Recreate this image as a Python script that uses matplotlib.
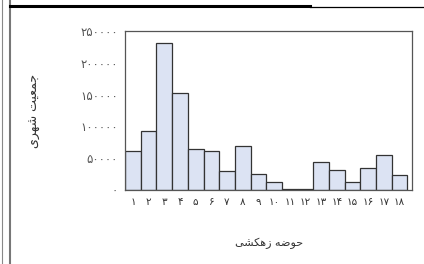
import matplotlib
matplotlib.use("Agg")
import matplotlib.pyplot as plt
from matplotlib.lines import Line2D

# data (urban population per drainage basin)
basins = list(range(1, 19))
population = [61400, 92200, 231700, 152000, 64000, 61000, 30200, 68700, 24500,
              13000, 1000, 1000, 43700, 31800, 13000, 35400, 54700, 23000]
yticks = [0, 50000, 100000, 150000, 200000, 250000]
ylabel = "جمعیت شهری"
xlabel = "حوضه زهکشی"

# presentation forms: iso, fin, ini, med (None -> letter does not join forward)
FORMS = {
    "ج": ("\uFE9D", "\uFE9E", "\uFE9F", "\uFEA0"),
    "م": ("\uFEE1", "\uFEE2", "\uFEE3", "\uFEE4"),
    "ع": ("\uFEC9", "\uFECA", "\uFECB", "\uFECC"),
    "ی": ("\uFBFC", "\uFBFD", "\uFBFE", "\uFBFF"),
    "ت": ("\uFE95", "\uFE96", "\uFE97", "\uFE98"),
    "ش": ("\uFEB5", "\uFEB6", "\uFEB7", "\uFEB8"),
    "ه": ("\uFEE9", "\uFEEA", "\uFEEB", "\uFEEC"),
    "ر": ("\uFEAD", "\uFEAE", None, None),
    "ح": ("\uFEA1", "\uFEA2", "\uFEA3", "\uFEA4"),
    "و": ("\uFEED", "\uFEEE", None, None),
    "ض": ("\uFEBD", "\uFEBE", "\uFEBF", "\uFEC0"),
    "ز": ("\uFEAF", "\uFEB0", None, None),
    "ک": ("\uFB8E", "\uFB8F", "\uFB90", "\uFB91"),
}


def shape(text):
    # crude arabic shaping + reversal so it reads right-to-left
    out = []
    for i, ch in enumerate(text):
        if ch not in FORMS:
            out.append(ch)
            continue
        prev = text[i - 1] if i > 0 else ""
        nxt = text[i + 1] if i + 1 < len(text) else ""
        join_prev = prev in FORMS and FORMS[prev][2] is not None
        join_next = nxt in FORMS and FORMS[ch][2] is not None
        iso, fin, ini, med = FORMS[ch]
        if join_prev and join_next:
            out.append(med)
        elif join_prev:
            out.append(fin)
        elif join_next:
            out.append(ini)
        else:
            out.append(iso)
    return "".join(reversed(out))


def fa_digits(n):
    return str(n).translate(str.maketrans("0123456789", "۰۱۲۳۴۵۶۷۸۹"))


fig = plt.figure(figsize=(4.24, 2.64), dpi=100)
ax = fig.add_axes([0.295, 0.28, 0.677, 0.603])

ax.bar(range(len(basins)), population, width=1.0, color="#dce3f3",
       edgecolor="#333333", linewidth=0.9)
ax.set_xlim(-0.5, 17.8)
ax.set_ylim(0, 250000)

ax.set_xticks(range(len(basins)))
ax.set_xticklabels([fa_digits(b) for b in basins], fontsize=7.5, color="#333333")
ax.set_yticks(yticks)
ax.set_yticklabels([fa_digits(v) for v in yticks], fontsize=8.5, color="#555555")
ax.tick_params(length=0, pad=5)
for s in ax.spines.values():
    s.set_color("#555555")
    s.set_linewidth(0.9)

ax.set_xlabel(shape(xlabel), fontsize=8, color="#333333", labelpad=22)
ax.set_ylabel(shape(ylabel), fontsize=9, color="#333333", labelpad=28)

# scanned page borders
fig.add_artist(Line2D([1.5 / 424, 1.5 / 424], [0, 1], color="#888888", lw=0.8))
fig.add_artist(Line2D([10 / 424, 10 / 424], [0, 1], color="#777777", lw=1.5))
fig.add_artist(Line2D([10 / 424, 310 / 424], [1 - 6 / 264, 1 - 6 / 264], color="black", lw=2.2))
fig.add_artist(Line2D([310 / 424, 1], [1 - 7 / 264, 1 - 7 / 264], color="black", lw=0.9))

fig.savefig("out.png", dpi=100)
